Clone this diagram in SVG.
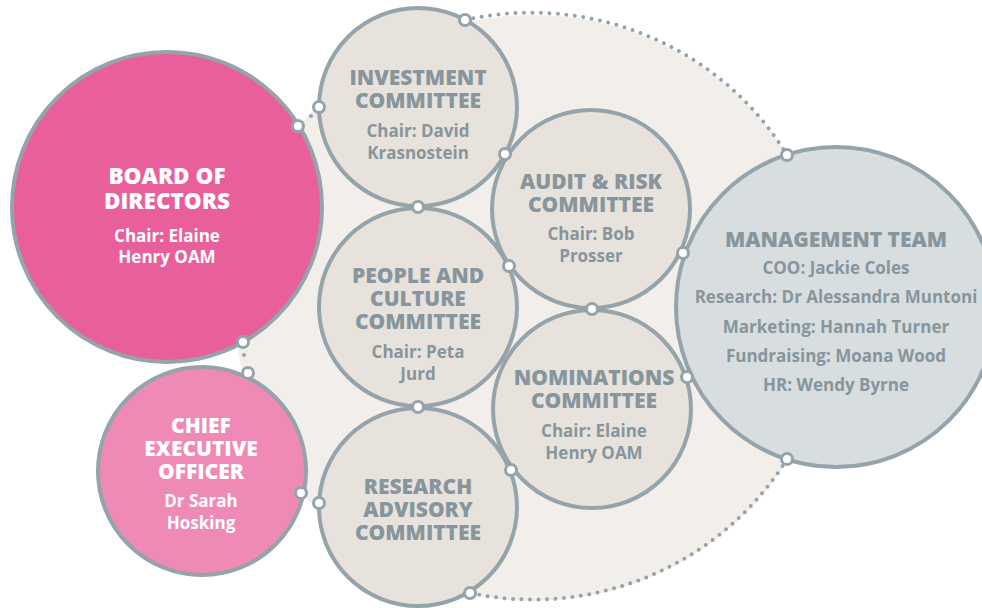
<svg xmlns="http://www.w3.org/2000/svg" width="982" height="608" viewBox="0 0 982 608">
  <style>
    .ring { stroke: #95a3ab; stroke-width: 4; }
    .board { fill: #e95f9c; }
    .ceo { fill: #ef8ab6; }
    .cmte { fill: #e7e2dc; }
    .mgmt { fill: #d8dde0; }
    .title { font-family: "Open Sans", "Noto Sans", sans-serif; font-weight: 800; font-size: 21px; text-anchor: middle; fill: #87959d; }
    .sub { font-family: "Open Sans", "Noto Sans", sans-serif; font-weight: 700; font-size: 17px; text-anchor: middle; fill: #87959d; }
    .big { font-size: 22.5px; }
    .light .title, .light .sub { fill: #ffffff; }
    .dots { fill: none; stroke: #95a3ab; stroke-width: 4; stroke-linecap: round; stroke-dasharray: 0 8.5; }
    .joint { fill: #ffffff; stroke: #95a3ab; stroke-width: 3; }
    .pip { fill: #95a3ab; }
  </style>

  <!-- shared backdrop behind the committees -->
  <ellipse cx="533" cy="308" rx="298" ry="293" fill="#f2efea"/>

  <g id="connectors">
    <path class="dots" d="M465,20 A298,293 0 0 1 787,155"/>
    <path class="dots" d="M787,459 A298,293 0 0 1 470,593"/>
  </g>

  <g id="board" class="light">
    <circle class="ring board" cx="167" cy="207" r="155"/>
    <text class="title big" x="167"><tspan x="167" y="184">BOARD OF</tspan><tspan x="167" y="209">DIRECTORS</tspan></text>
    <text class="sub" x="167"><tspan x="167" y="242">Chair: Elaine</tspan><tspan x="167" y="263">Henry OAM</tspan></text>
  </g>

  <g id="ceo" class="light">
    <circle class="ring ceo" cx="202" cy="471" r="104"/>
    <text class="title" x="201"><tspan x="201" y="433">CHIEF</tspan><tspan x="201" y="456">EXECUTIVE</tspan><tspan x="201" y="479">OFFICER</tspan></text>
    <text class="sub" x="201"><tspan x="201" y="507">Dr Sarah</tspan><tspan x="201" y="529">Hosking</tspan></text>
  </g>

  <g id="investment">
    <circle class="ring cmte" cx="418" cy="107" r="99"/>
    <text class="title" x="418"><tspan x="418" y="85">INVESTMENT</tspan><tspan x="418" y="108">COMMITTEE</tspan></text>
    <text class="sub" x="418"><tspan x="418" y="137">Chair: David</tspan><tspan x="418" y="159">Krasnostein</tspan></text>
  </g>

  <g id="people">
    <circle class="ring cmte" cx="418" cy="307" r="99"/>
    <text class="title" x="418"><tspan x="418" y="283">PEOPLE AND</tspan><tspan x="418" y="306">CULTURE</tspan><tspan x="418" y="329">COMMITTEE</tspan></text>
    <text class="sub" x="418"><tspan x="418" y="358">Chair: Peta</tspan><tspan x="418" y="380">Jurd</tspan></text>
  </g>

  <g id="research">
    <circle class="ring cmte" cx="418" cy="507" r="99"/>
    <text class="title" x="418"><tspan x="418" y="494">RESEARCH</tspan><tspan x="418" y="517">ADVISORY</tspan><tspan x="418" y="540">COMMITTEE</tspan></text>
  </g>

  <g id="audit">
    <circle class="ring cmte" cx="591" cy="209" r="99"/>
    <text class="title" x="591"><tspan x="591" y="189">AUDIT &amp; RISK</tspan><tspan x="591" y="212">COMMITTEE</tspan></text>
    <text class="sub" x="591"><tspan x="591" y="240">Chair: Bob</tspan><tspan x="591" y="262">Prosser</tspan></text>
  </g>

  <g id="nominations">
    <circle class="ring cmte" cx="592" cy="409" r="99"/>
    <text class="title" x="594"><tspan x="594" y="385">NOMINATIONS</tspan><tspan x="594" y="408">COMMITTEE</tspan></text>
    <text class="sub" x="594"><tspan x="594" y="437">Chair: Elaine</tspan><tspan x="594" y="459">Henry OAM</tspan></text>
  </g>

  <g id="management">
    <circle class="ring mgmt" cx="836" cy="307" r="160"/>
    <text class="title" x="836" y="247">MANAGEMENT TEAM</text>
    <text class="sub" x="836"><tspan x="836" y="274">COO: Jackie Coles</tspan><tspan x="836" y="303">Research: Dr Alessandra Muntoni</tspan><tspan x="836" y="333">Marketing: Hannah Turner</tspan><tspan x="836" y="362">Fundraising: Moana Wood</tspan><tspan x="836" y="391">HR: Wendy Byrne</tspan></text>
  </g>

  <g id="joints">
    <circle class="pip" cx="311" cy="116" r="2"/>
    <circle class="pip" cx="244" cy="355" r="2"/>
    <circle class="joint" cx="298" cy="126" r="5.5"/>
    <circle class="joint" cx="319" cy="107" r="5.5"/>
    <circle class="joint" cx="465" cy="20" r="5.5"/>
    <circle class="joint" cx="243" cy="342" r="5.5"/>
    <circle class="joint" cx="248" cy="373" r="5.5"/>
    <circle class="joint" cx="301" cy="493" r="5.5"/>
    <circle class="joint" cx="319" cy="503" r="5.5"/>
    <circle class="joint" cx="505" cy="154" r="5.5"/>
    <circle class="joint" cx="418" cy="207" r="5.5"/>
    <circle class="joint" cx="509" cy="266" r="5.5"/>
    <circle class="joint" cx="592" cy="309" r="5.5"/>
    <circle class="joint" cx="418" cy="407" r="5.5"/>
    <circle class="joint" cx="511" cy="470" r="5.5"/>
    <circle class="joint" cx="470" cy="593" r="5.5"/>
    <circle class="joint" cx="683" cy="253" r="5.5"/>
    <circle class="joint" cx="687" cy="377" r="5.5"/>
    <circle class="joint" cx="787" cy="155" r="5.5"/>
    <circle class="joint" cx="787" cy="459" r="5.5"/>
  </g>
</svg>
